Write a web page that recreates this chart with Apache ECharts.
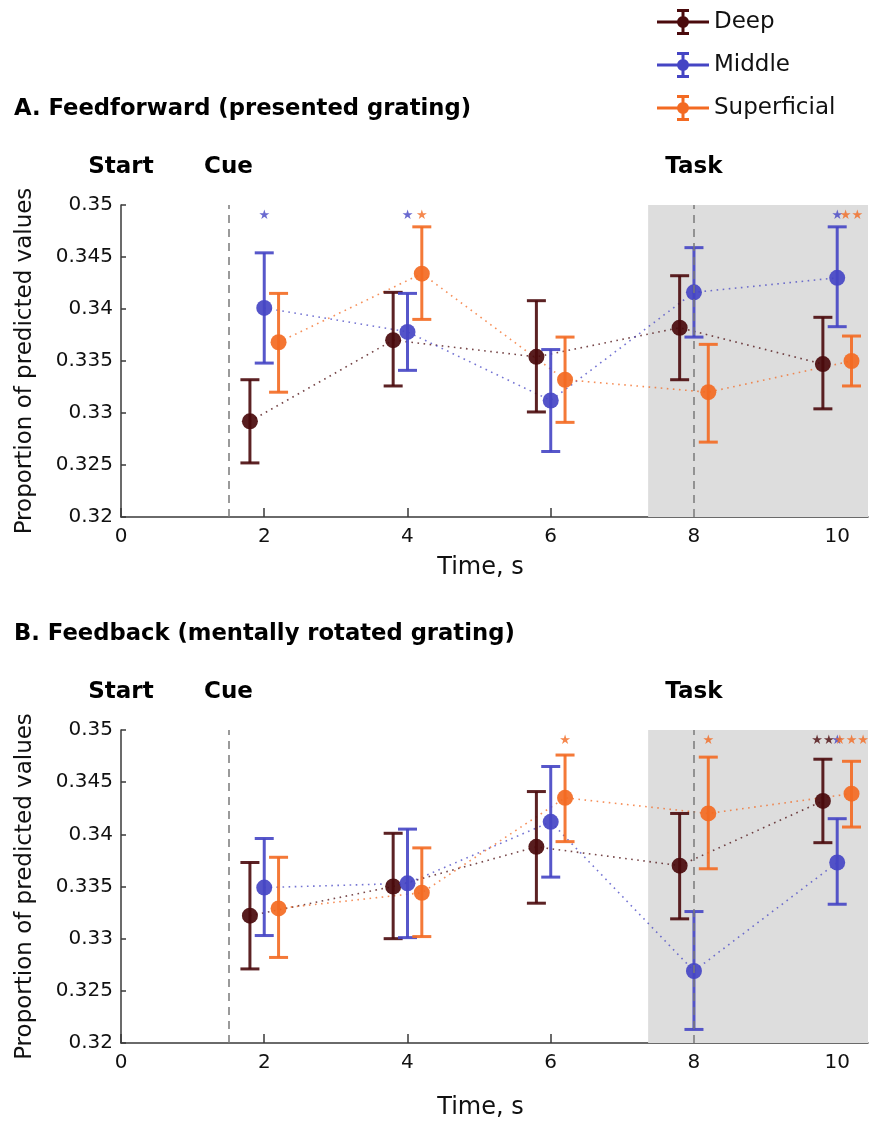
<!DOCTYPE html>
<html>
<head>
<meta charset="utf-8">
<script src="https://cdn.jsdelivr.net/npm/echarts@6/dist/echarts.min.js"></script>
<style>
html,body{margin:0;padding:0;background:#fff;}
#main{width:870px;height:1122px;}
</style>
</head>
<body>
<div id="main"></div>
<script>
// ---------- data ----------
const times = [2, 4, 6, 8, 10];
const xTicks = [0, 2, 4, 6, 8, 10];
const layers = ['Deep', 'Middle', 'Superficial'];

// A. Feedforward (presented grating)
const ffDeepMean = [0.3292, 0.3370, 0.3354, 0.3382, 0.3347];
const ffDeepLo   = [0.3252, 0.3326, 0.3301, 0.3332, 0.3304];
const ffDeepHi   = [0.3332, 0.3416, 0.3408, 0.3432, 0.3392];
const ffMidMean  = [0.3401, 0.3378, 0.3312, 0.3416, 0.3430];
const ffMidLo    = [0.3348, 0.3341, 0.3263, 0.3373, 0.3383];
const ffMidHi    = [0.3454, 0.3415, 0.3361, 0.3459, 0.3479];
const ffSupMean  = [0.3368, 0.3434, 0.3332, 0.3320, 0.3350];
const ffSupLo    = [0.3320, 0.3390, 0.3291, 0.3272, 0.3326];
const ffSupHi    = [0.3415, 0.3479, 0.3373, 0.3366, 0.3374];
const ffStarsDeep = ['', '', '', '', ''];
const ffStarsMid  = ['*', '*', '', '', '*'];
const ffStarsSup  = ['', '*', '', '', '**'];

// B. Feedback (mentally rotated grating)
const fbDeepMean = [0.3322, 0.3350, 0.3388, 0.3370, 0.3432];
const fbDeepLo   = [0.3271, 0.3300, 0.3334, 0.3319, 0.3392];
const fbDeepHi   = [0.3373, 0.3401, 0.3441, 0.3420, 0.3472];
const fbMidMean  = [0.3349, 0.3353, 0.3412, 0.3269, 0.3373];
const fbMidLo    = [0.3303, 0.3301, 0.3359, 0.3213, 0.3333];
const fbMidHi    = [0.3396, 0.3405, 0.3465, 0.3326, 0.3415];
const fbSupMean  = [0.3329, 0.3344, 0.3435, 0.3420, 0.3439];
const fbSupLo    = [0.3282, 0.3302, 0.3393, 0.3367, 0.3407];
const fbSupHi    = [0.3378, 0.3387, 0.3476, 0.3474, 0.3470];
const fbStarsDeep = ['', '', '', '', '**'];
const fbStarsMid  = ['', '', '', '', '*'];
const fbStarsSup  = ['', '', '*', '*', '***'];

const eventNames = ['Start', 'Cue', 'Task'];
const eventTimes = [0, 1.5, 8];
const taskShadeStart = 7.36;
const panelTitles = ['A. Feedforward (presented grating)', 'B. Feedback (mentally rotated grating)'];

// ---------- style ----------
const FONT = 'DejaVu Sans';
const colors = {Deep: '#4a0a0c', Middle: '#4545c4', Superficial: '#f36a22'};
const dodge = {Deep: -0.2, Middle: 0, Superficial: 0.2};
const X_MAX = 10.43;
const STAR_Y = 0.349;

const panels = [
  {mean: [ffDeepMean, ffMidMean, ffSupMean], lo: [ffDeepLo, ffMidLo, ffSupLo], hi: [ffDeepHi, ffMidHi, ffSupHi],
   stars: [ffStarsDeep, ffStarsMid, ffStarsSup], top: 205, height: 312, nameGapX: 39, titleTop: 98, eventY: 167},
  {mean: [fbDeepMean, fbMidMean, fbSupMean], lo: [fbDeepLo, fbMidLo, fbSupLo], hi: [fbDeepHi, fbMidHi, fbSupHi],
   stars: [fbStarsDeep, fbStarsMid, fbStarsSup], top: 730, height: 313, nameGapX: 53, titleTop: 623, eventY: 692}
];

const chart = echarts.init(document.getElementById('main'), null, {renderer: 'canvas'});

const grids = [], xAxes = [], yAxes = [], series = [], titles = [];
panels.forEach((p, pi) => {
  grids.push({left: 121, top: p.top, width: 747, height: p.height});
  titles.push({text: panelTitles[pi], left: 14, top: p.titleTop, padding: 0,
    textStyle: {fontFamily: FONT, fontSize: 22.7, fontWeight: 'bold', color: '#000'}});
  xAxes.push({
    type: 'value', gridIndex: pi, min: 0, max: X_MAX,
    name: 'Time, s', nameLocation: 'middle', nameGap: p.nameGapX,
    nameTextStyle: {fontFamily: FONT, fontSize: 24, color: '#111', padding: [0, 28, 0, 0]},
    axisLine: {show: true, onZero: false, lineStyle: {color: '#3a3a3a', width: 1.5}},
    axisTick: {show: true, inside: true, length: 9, customValues: xTicks, lineStyle: {color: '#3a3a3a', width: 1.5}},
    axisLabel: {customValues: xTicks, fontFamily: FONT, fontSize: 20, color: '#111', margin: 10},
    splitLine: {show: false}
  });
  yAxes.push({
    type: 'value', gridIndex: pi, min: 0.32, max: 0.35, interval: 0.005,
    name: 'Proportion of predicted values', nameLocation: 'middle', nameGap: 84,
    nameTextStyle: {fontFamily: FONT, fontSize: 23, color: '#111'},
    axisLine: {show: true, lineStyle: {color: '#3a3a3a', width: 1.5}},
    axisTick: {show: true, inside: true, length: 5, lineStyle: {color: '#3a3a3a', width: 1.5}},
    axisLabel: {fontFamily: FONT, fontSize: 20, color: '#111', margin: 8},
    splitLine: {show: false}
  });
  // background: task shading + event dashed lines
  series.push({
    type: 'line', xAxisIndex: pi, yAxisIndex: pi, data: [], z: 1, silent: true,
    markArea: {silent: true, itemStyle: {color: '#dddddd'},
      data: [[{xAxis: taskShadeStart}, {xAxis: X_MAX}]]},
    markLine: {silent: true, symbol: 'none', label: {show: false},
      lineStyle: {color: '#7a7a7a', type: [8, 6], width: 1.5},
      data: eventTimes.filter(t => t > 0).map(t => ({xAxis: t}))}
  });
  layers.forEach((L, li) => {
    const c = colors[L];
    const xs = times.map(t => t + dodge[L]);
    const pts = xs.map((x, i) => [x, p.mean[li][i]]);
    series.push({
      name: L, type: 'line', xAxisIndex: pi, yAxisIndex: pi, data: pts,
      showSymbol: false, symbol: 'none', z: 2, silent: true,
      lineStyle: {color: c, width: 1.6, type: [1.6, 4.5], opacity: 0.75}
    });
    series.push({
      name: L, type: 'custom', xAxisIndex: pi, yAxisIndex: pi, z: 3, silent: true,
      data: xs.map((x, i) => [x, p.lo[li][i], p.hi[li][i]]),
      encode: {x: 0, y: [1, 2]},
      renderItem: (params, api) => {
        const x = api.value(0);
        const a = api.coord([x, api.value(2)]);
        const b = api.coord([x, api.value(1)]);
        const hw = 9.5;
        const st = {stroke: c, lineWidth: 3, opacity: 0.9};
        return {type: 'group', children: [
          {type: 'line', shape: {x1: a[0], y1: a[1], x2: b[0], y2: b[1]}, style: st},
          {type: 'line', shape: {x1: a[0] - hw, y1: a[1], x2: a[0] + hw, y2: a[1]}, style: st},
          {type: 'line', shape: {x1: b[0] - hw, y1: b[1], x2: b[0] + hw, y2: b[1]}, style: st}
        ]};
      }
    });
    series.push({
      name: L, type: 'scatter', xAxisIndex: pi, yAxisIndex: pi, data: pts, z: 4, silent: true,
      symbol: 'circle', symbolSize: 16, itemStyle: {color: c, opacity: 0.92}
    });
    const starData = xs.map((x, i) => [x, STAR_Y, p.stars[li][i]]).filter(d => d[2] !== '');
    series.push({
      name: L, type: 'scatter', xAxisIndex: pi, yAxisIndex: pi, data: starData, z: 5, silent: true,
      symbolSize: 0,
      label: {show: true, position: 'inside', formatter: q => q.data[2].replace(/\*/g, '★'),
        color: c, fontFamily: FONT, fontSize: 13}
    });
  });
});

const legendIcon = 'path://M0,11.5L52,11.5L52,14.5L0,14.5Z M24.5,0L27.5,0L27.5,26L24.5,26Z M20,0L32,0L32,3L20,3Z M20,23L32,23L32,26L20,26Z M20,13A6,6 0 1,1 32,13A6,6 0 1,1 20,13Z';

chart.setOption({
  animation: false,
  backgroundColor: '#fff',
  title: titles,
  legend: {
    left: 652, top: 4, orient: 'vertical', itemWidth: 52, itemHeight: 26, itemGap: 17,
    textStyle: {fontFamily: FONT, fontSize: 23, color: '#111'},
    data: layers.map(L => ({name: L, icon: legendIcon, itemStyle: {color: colors[L], opacity: 1, borderWidth: 0}}))
  },
  grid: grids, xAxis: xAxes, yAxis: yAxes, series: series
});

// event labels above each panel, placed via the x-axis scale
const graphics = [];
panels.forEach((p, pi) => {
  eventNames.forEach((n, k) => {
    const px = chart.convertToPixel({xAxisIndex: pi}, eventTimes[k]);
    graphics.push({type: 'text', x: px, y: p.eventY, silent: true,
      style: {text: n, fontFamily: FONT, fontSize: 23, fontWeight: 'bold', fill: '#000',
        textAlign: 'center', textVerticalAlign: 'middle'}});
  });
});
chart.setOption({graphic: graphics});
</script>
</body>
</html>
